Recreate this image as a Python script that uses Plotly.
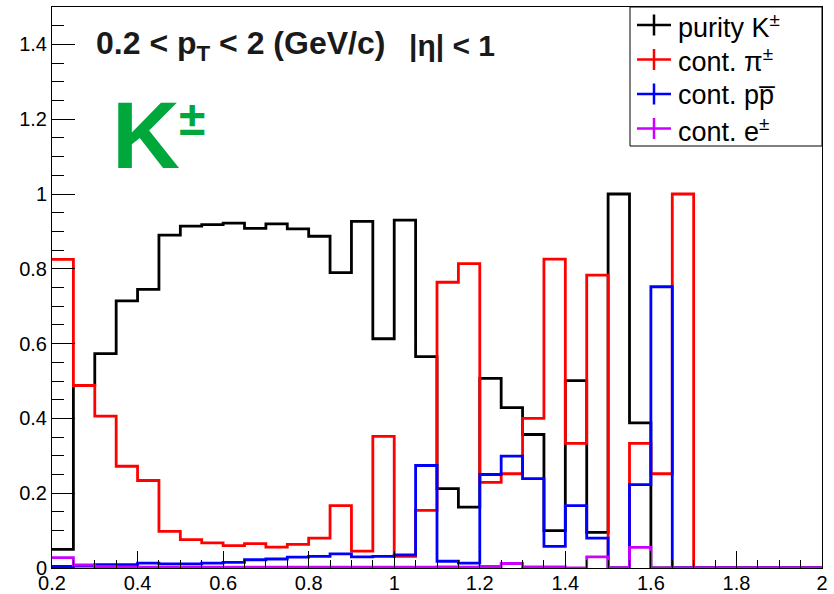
import numpy as np
import plotly.graph_objects as go

# pT binning (GeV/c)
pt_min, pt_max, n_bins = 0.2, 2.0, 36
edges = np.linspace(pt_min, pt_max, n_bins + 1)

purity_K = [0.05, 0.488, 0.573, 0.714, 0.745, 0.89, 0.914, 0.918, 0.922, 0.908,
            0.92, 0.907, 0.887, 0.79, 0.927, 0.613, 0.93, 0.565, 0.212, 0.163,
            0.507, 0.429, 0.357, 0.100, 0.501, 0.095, 1.0, 0.388, 0, 0,
            0, 0, 0, 0, 0, 0]
cont_pi = [0.825, 0.488, 0.406, 0.272, 0.234, 0.098, 0.076, 0.067, 0.060, 0.065,
           0.056, 0.063, 0.080, 0.167, 0.045, 0.352, 0.031, 0.154, 0.764, 0.814,
           0.229, 0.252, 0.400, 0.826, 0.333, 0.783, 0, 0.333, 0.252, 1.0,
           0, 0, 0, 0, 0, 0]
cont_p = [0.004, 0.005, 0.009, 0.009, 0.013, 0.011, 0.011, 0.013, 0.015, 0.022,
          0.024, 0.029, 0.031, 0.038, 0.030, 0.031, 0.035, 0.274, 0.018, 0.013,
          0.250, 0.299, 0.239, 0.058, 0.167, 0.080, 0, 0.223, 0.752, 0,
          0, 0, 0, 0, 0, 0]
cont_e = [0.028, 0.008, 0.004, 0.003, 0.002, 0.002, 0.002, 0.002, 0.002, 0.002,
          0.002, 0.002, 0.002, 0.002, 0.002, 0.002, 0.002, 0.002, 0.003, 0.002,
          0.004, 0.012, 0.003, 0.003, 0, 0.030, 0, 0.055, 0, 0,
          0, 0, 0, 0, 0, 0]

series_names = ["purity K<sup>±</sup>", "cont. π<sup>±</sup>",
                "cont. pp\u0305", "cont. e<sup>±</sup>"]
series_values = [purity_K, cont_pi, cont_p, cont_e]
series_colors = ["#000000", "#ff0000", "#0000ff", "#cc00ff"]

x_ticks = [0.2, 0.4, 0.6, 0.8, 1.0, 1.2, 1.4, 1.6, 1.8, 2.0]
y_ticks = [0, 0.2, 0.4, 0.6, 0.8, 1.0, 1.2, 1.4]

FONT = "Liberation Sans, Arial, Helvetica, sans-serif"

fig = go.Figure()
for vals, col in zip(series_values, series_colors):
    fig.add_trace(go.Scatter(
        x=edges, y=list(vals) + [vals[-1]],
        mode="lines", line=dict(color=col, width=2.8, shape="hv"),
        showlegend=False, hoverinfo="skip"))

# frame geometry in pixels (for the hand-drawn legend box)
W, H = 834, 594
L, R, T, B = 52, 12, 7, 26
pw, ph = W - L - R, H - T - B


def px(x):
    return (x - L) / pw


def py(y):
    return (H - B - y) / ph


shapes = [dict(type="rect", xref="paper", yref="paper",
               x0=px(630), x1=1.0, y0=py(146), y1=1.0,
               line=dict(color="black", width=1), fillcolor="white", layer="above")]
annotations = []
row_y = [25, 59.5, 94, 128.5]
for name, col, yy in zip(series_names, series_colors, row_y):
    shapes.append(dict(type="line", xref="paper", yref="paper",
                       x0=px(637), x1=px(671), y0=py(yy), y1=py(yy),
                       line=dict(color=col, width=2.5), layer="above"))
    shapes.append(dict(type="line", xref="paper", yref="paper",
                       x0=px(654), x1=px(654), y0=py(yy - 10.5), y1=py(yy + 10.5),
                       line=dict(color=col, width=2.5), layer="above"))
    annotations.append(dict(xref="paper", yref="paper", x=px(676), y=py(yy + 1),
                            xanchor="left", yanchor="middle", showarrow=False,
                            text=name, font=dict(family=FONT, size=27, color="black")))

annotations += [
    dict(xref="paper", yref="paper", x=px(94), y=py(46), xanchor="left", yanchor="middle",
         showarrow=False,
         text="<b>0.2 &lt; p<sub>T</sub> &lt; 2 (GeV/c)</b>",
         font=dict(family=FONT, size=32, color="#1a1a1a")),
    dict(xref="paper", yref="paper", x=px(497), y=py(46), xanchor="right", yanchor="middle",
         showarrow=False, text="<b>|η| &lt; 1</b>",
         font=dict(family=FONT, size=30, color="#1a1a1a")),
    dict(xref="paper", yref="paper", x=px(110), y=py(135), xanchor="left", yanchor="middle",
         showarrow=False, text="<b>K</b>",
         font=dict(family=FONT, size=94, color="#00a83c")),
    dict(xref="paper", yref="paper", x=px(177), y=py(119), xanchor="left", yanchor="middle",
         showarrow=False, text="<b>±</b>",
         font=dict(family=FONT, size=48, color="#00a83c")),
]

axis_common = dict(showline=True, mirror=True, linecolor="black", linewidth=1,
                   showgrid=False, zeroline=False, ticks="inside", tickcolor="black",
                   tickwidth=1, automargin=False,
                   tickfont=dict(family=FONT, size=20, color="black"))

fig.update_layout(
    width=W, height=H, margin=dict(l=L, r=R, t=T, b=B),
    paper_bgcolor="white", plot_bgcolor="white",
    shapes=shapes, annotations=annotations, showlegend=False,
    xaxis=dict(range=[pt_min, pt_max], tickvals=x_ticks,
               ticktext=[f"{v:g}" for v in x_ticks], ticklen=17,
               ticklabelstandoff=-3,
               minor=dict(dtick=0.05, tick0=0.2, ticks="inside", ticklen=8,
                          tickcolor="black", tickwidth=1, showgrid=False),
               **axis_common),
    yaxis=dict(range=[0, 1.5], tickvals=y_ticks,
               ticktext=[f"{v:g}" for v in y_ticks], ticklen=23,
               minor=dict(dtick=0.05, tick0=0, ticks="inside", ticklen=12,
                          tickcolor="black", tickwidth=1, showgrid=False),
               **axis_common),
)

fig.write_html("out.html")
